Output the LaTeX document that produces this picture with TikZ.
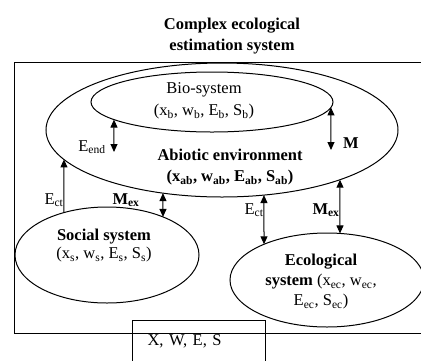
\documentclass[tikz,border=0pt]{standalone}
\usepackage{fontspec}
\setmainfont{Liberation Serif}
\usetikzlibrary{calc,arrows.meta}

\newcommand{\sbs}[1]{\textsubscript{#1}}

\begin{document}
\begin{tikzpicture}[x=1pt,y=-1pt,
        every node/.style={font=\fontsize{16.5}{20}\selectfont, align=center, inner sep=0pt},
        frameline/.style={line width=1pt},
        sysline/.style={line width=1pt},
        flow/.style={line width=1pt, {Triangle[length=8pt,width=7pt]}-{Triangle[length=8pt,width=7pt]}},
        upflow/.style={line width=1pt, -{Triangle[length=8pt,width=7pt]}}]
        \useasboundingbox (0,0) rectangle (421,360);
        % Title
        \node[font=\fontsize{16.5}{21}\selectfont\bfseries] (title) at (232,36) {Complex ecological\\estimation system};
        % Draw the outer frame
        \coordinate (frameNE) at (430,62);
        \coordinate (frameNW) at (14,62);
        \coordinate (frameSW) at (14,333);
        \coordinate (frameSE) at (430,333);
        \draw[frameline] (frameNE) -- (frameNW) -- (frameSW) -- (frameSE);
        % Draw the four systems
        \coordinate (abio) at (222,130);
        \coordinate (bio) at (212,102);
        \coordinate (social) at (107,255);
        \coordinate (eco) at (327,280);
        \draw[sysline] (abio) ellipse [x radius=176, y radius=67];
        \draw[sysline] (bio) ellipse [x radius=121, y radius=30];
        \draw[sysline] (social) ellipse [x radius=92, y radius=48];
        \draw[sysline] (eco) ellipse [x radius=97, y radius=47];
        % System labels
        \node (biotext) at (204,101) {Bio-system\\[2pt](x\sbs{b}, w\sbs{b}, E\sbs{b}, S\sbs{b})};
        \node[font=\fontsize{16.5}{21}\selectfont\bfseries] (abiotext) at (230,167) {Abiotic environment\\(x\sbs{ab}, w\sbs{ab}, E\sbs{ab}, S\sbs{ab})};
        \node (socialtext) at (104,246) {\textbf{Social system}\\[-2pt](x\sbs{s}, w\sbs{s}, E\sbs{s}, S\sbs{s})};
        \node (ecotext) at (321,282) {\textbf{Ecological}\\\textbf{system} (x\sbs{ec}, w\sbs{ec},\\E\sbs{ec}, S\sbs{ec})};
        % Points where the links meet the ellipses
        \coordinate (endtop) at ($(bio)+(144.1:121 and 30)$);
        \coordinate (endbot) at (114,152);
        \coordinate (mtop) at ($(bio)+(10.5:121 and 30)$);
        \coordinate (mbot) at (331,150);
        \coordinate (ectLtop) at ($(abio)+(153.9:176 and 67)$);
        \coordinate (ectLbot) at ($(social)+(242.1:92 and 48)$);
        \coordinate (mexLtop) at ($(abio)+(109.6:176 and 67)$);
        \coordinate (mexLbot) at ($(social)+(307.5:92 and 48)$);
        \coordinate (ectRtop) at ($(abio)+(76.2:176 and 67)$);
        \coordinate (ectRbot) at ($(eco)+(229.5:97 and 47)$);
        \coordinate (mexRtop) at ($(abio)+(47.9:176 and 67)$);
        \coordinate (mexRbot) at ($(eco)+(277.7:97 and 47)$);
        % Draw the links
        \draw[flow] (endtop) -- (endbot);
        \draw[flow] (mtop) -- (mbot);
        \draw[upflow] (ectLbot) -- (ectLtop);
        \draw[flow] (mexLtop) -- (mexLbot);
        \draw[flow] (ectRtop) -- (ectRbot);
        \draw[flow] (mexRtop) -- (mexRbot);
        % Link labels
        \node (endlabel) at (92,147) {E\sbs{end}};
        \node[font=\fontsize{16.5}{20}\selectfont\bfseries] (mlabel) at (351,143) {M};
        \node (ectLlabel) at (54,200) {E\sbs{ct}};
        \node[font=\fontsize{16.5}{20}\selectfont\bfseries] (mexLlabel) at (126,200) {M\sbs{ex}};
        \node (ectRlabel) at (254,210) {E\sbs{ct}};
        \node[font=\fontsize{16.5}{20}\selectfont\bfseries] (mexRlabel) at (326,210) {M\sbs{ex}};
        % State box
        \node[draw, line width=1pt, anchor=north west, inner xsep=15pt, inner ysep=0pt, text width=103pt, align=left, minimum height=42pt] (state) at (132,320) {X, W, E, S};
    \end{tikzpicture}
\end{document}
